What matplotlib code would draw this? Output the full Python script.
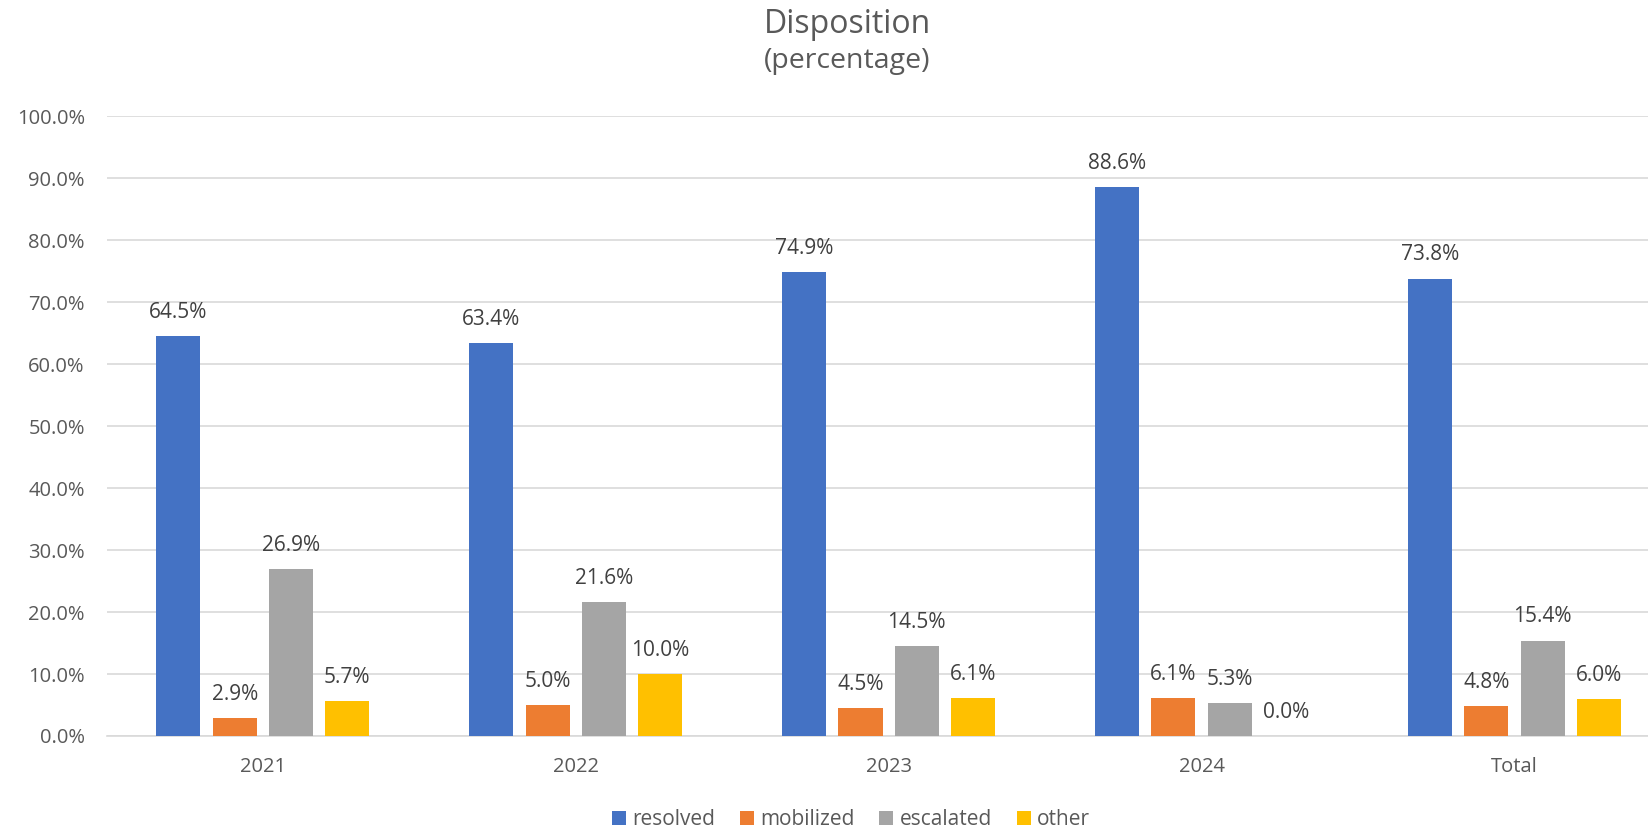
import numpy as np
import matplotlib.pyplot as plt

# datos
categorias = ['2021', '2022', '2023', '2024', 'Total']
series = ['resolved', 'mobilized', 'escalated', 'other']
resolved = [64.5, 63.4, 74.9, 88.6, 73.8]
mobilized = [2.9, 5.0, 4.5, 6.1, 4.8]
escalated = [26.9, 21.6, 14.5, 5.3, 15.4]
other = [5.7, 10.0, 6.1, 0.0, 6.0]
colores = ['#4472C4', '#ED7D31', '#A5A5A5', '#FFC000']

plt.rcParams['font.family'] = ['Open Sans', 'DejaVu Sans']
gris = '#595959'

fig = plt.figure(figsize=(16.49, 8.32), dpi=100)
ax = fig.add_axes([0.0649, 0.1154, 0.9351, 0.745])

x = np.arange(len(categorias))
ancho = 0.141
paso = 0.180
valores = [resolved, mobilized, escalated, other]
for i in range(len(series)):
    pos = x + (i - 1.5) * paso
    barras = ax.bar(pos, valores[i], width=ancho, color=colores[i], label=series[i], zorder=3)
    for b, v in zip(barras, valores[i]):
        ax.annotate(f'{v:.1f}%', (b.get_x() + b.get_width() / 2, v),
                    xytext=(0, 13), textcoords='offset points',
                    ha='center', va='baseline', fontsize=15, color='#404040')

ax.set_xlim(-0.498, 4.43)
ax.set_ylim(0, 100)
ax.set_yticks(np.arange(0, 101, 10))
ax.set_yticklabels([f'{t:.1f}%' for t in np.arange(0, 101, 10)])
ax.set_xticks(x)
ax.set_xticklabels(categorias)
ax.tick_params(axis='both', length=0, labelsize=14.5, labelcolor=gris)
ax.tick_params(axis='x', pad=15)
ax.tick_params(axis='y', pad=16)
ax.grid(axis='y', color='#D9D9D9', linewidth=1.2, zorder=0)
for s in ['top', 'right', 'left']:
    ax.spines[s].set_visible(False)
ax.spines['bottom'].set_color('#D9D9D9')
ax.spines['bottom'].set_linewidth(1.2)

fig.text(0.514, 0.960, 'Disposition', ha='center', va='baseline', fontsize=23, color=gris)
fig.text(0.514, 0.918, '(percentage)', ha='center', va='baseline', fontsize=20.5, color=gris)

fig.legend(loc='center', bbox_to_anchor=(0.516, 0.0145), ncol=4, frameon=False,
           fontsize=15, labelcolor=gris, handlelength=0.67, handleheight=0.67,
           handletextpad=0.3, columnspacing=1.2)

plt.savefig('out.png', dpi=100)
